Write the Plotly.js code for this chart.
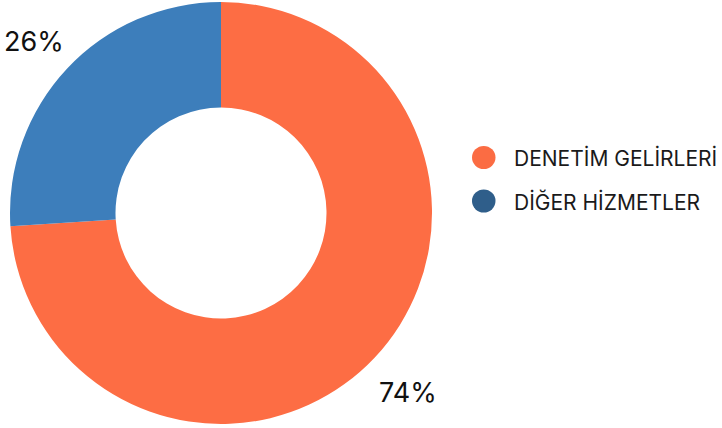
<!DOCTYPE html>
<html>
<head>
<meta charset="utf-8">
<script src="https://cdn.plot.ly/plotly-3.0.1.min.js"></script>
<style>html,body{margin:0;padding:0;background:#fff;}#chart{width:722px;height:428px;}</style>
</head>
<body>
<div id="chart"></div>
<script>
const categories = ["DENETİM GELİRLERİ", "DİĞER HİZMETLER"];
const values = [74, 26];
const sliceColors = ["#FD6D44", "#3D7EBB"];
const legendColors = ["#FB6C43", "#2F5E8A"];

const W = 722, H = 428;
const cx = 221, cy = 213, R = 211, labelR = 257;
const font = "Inter, 'Liberation Sans', sans-serif";

const trace = {
  type: "pie",
  labels: categories,
  values: values,
  hole: 0.5,
  sort: false,
  direction: "clockwise",
  rotation: 0,
  marker: {colors: sliceColors, line: {width: 0}},
  textinfo: "none",
  showlegend: false,
  hoverinfo: "label+percent",
  domain: {x: [(cx - R)/W, (cx + R)/W], y: [1 - (cy + R)/H, 1 - (cy - R)/H]}
};

const shapes = [];
const annotations = [];
const total = values.reduce((a, b) => a + b, 0);
let cum = 0;
values.forEach((v, i) => {
  const mid = (cum + v / 2) / total * 2 * Math.PI;
  cum += v;
  const px = cx + labelR * Math.sin(mid);
  const py = cy - labelR * Math.cos(mid) + 4;
  annotations.push({
    xref: "paper", yref: "paper", x: px / W, y: 1 - py / H,
    xanchor: "center", yanchor: "middle", showarrow: false,
    text: Math.round(v / total * 100) + "%",
    font: {family: font, size: 27, color: "#111"}
  });
});
categories.forEach((c, i) => {
  const yc = 157.5 + i * 43.5;
  shapes.push({
    type: "circle", xref: "paper", yref: "paper",
    x0: 472/W, x1: 495.5/W, y0: 1 - (yc + 11.5)/H, y1: 1 - (yc - 11.5)/H,
    fillcolor: legendColors[i], line: {width: 0}
  });
  annotations.push({
    xref: "paper", yref: "paper", x: 512/W, y: 1 - (yc + 1)/H,
    xanchor: "left", yanchor: "middle", showarrow: false, text: c,
    font: {family: font, size: 21, color: "#1a1a1a"}
  });
});

const layout = {
  width: W, height: H,
  margin: {l: 0, r: 0, t: 0, b: 0},
  paper_bgcolor: "#fff",
  showlegend: false,
  shapes: shapes,
  annotations: annotations
};

Plotly.newPlot("chart", [trace], layout, {displayModeBar: false, staticPlot: true});
</script>
</body>
</html>
